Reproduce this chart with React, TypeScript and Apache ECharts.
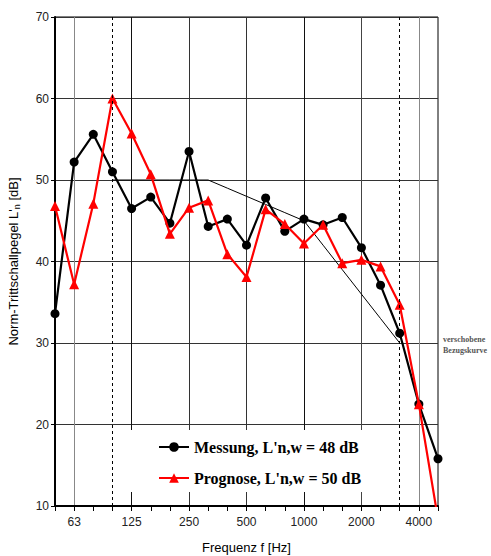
import React, { useEffect, useRef } from 'react';
import * as echarts from 'echarts';

const frequencies = ['50', '63', '80', '100', '125', '160', '200', '250', '315', '400', '500', '630', '800', '1000', '1250', '1600', '2000', '2500', '3150', '4000', '5000'];
const measured = [33.6, 52.2, 55.6, 51.0, 46.5, 47.9, 44.7, 53.5, 44.3, 45.2, 42.0, 47.8, 43.7, 45.2, 44.5, 45.4, 41.7, 37.1, 31.2, 22.5, 15.8];
const predicted = [46.8, 37.2, 47.1, 60.0, 55.7, 50.7, 43.4, 46.6, 47.5, 40.9, 38.1, 46.4, 44.6, 42.2, 44.5, 39.8, 40.2, 39.4, 34.7, 22.5, 8.4];
const shiftedReference = [null, null, null, 50, 50, 50, 50, 50, 50, 49, 48, 47, 46, 45, 42, 39, 36, 33, 30, null, null];
const xTickLabels = ['63', '125', '250', '500', '1000', '2000', '4000'];
const dashedFrequencies = ['100', '3150'];
const gridColors = ['#888', '#111', '#333', '#333', '#111', '#444', '#888'];
const measuredName = "Messung, L'n,w = 48 dB";
const predictedName = "Prognose, L'n,w = 50 dB";

export default function App() {
  const ref = useRef<HTMLDivElement>(null);
  useEffect(() => {
    if (!ref.current) return;
    const chart = echarts.init(ref.current, null, { renderer: 'svg' });
    chart.setOption({
      animation: false,
      backgroundColor: '#fff',
      grid: {
        left: 55, right: 53, top: 17, bottom: 50,
        outerBoundsMode: 'none',
        containLabel: false,
        show: true, borderColor: '#000', borderWidth: 1, backgroundColor: 'transparent',
      },
      legend: {
        data: [measuredName, predictedName],
        orient: 'vertical',
        left: 120,
        top: 430,
        padding: [9, 35, 6, 38],
        itemGap: 15,
        itemWidth: 30,
        itemHeight: 12,
        backgroundColor: '#fff',
        textStyle: { fontFamily: 'Liberation Serif', fontWeight: 'bold', fontSize: 16, color: '#000' },
      },
      xAxis: {
        type: 'category',
        data: frequencies,
        boundaryGap: false,
        name: 'Frequenz f [Hz]',
        nameLocation: 'middle',
        nameGap: 35,
        nameTextStyle: { fontFamily: 'Liberation Sans', fontSize: 13, color: '#000' },
        axisLine: { lineStyle: { color: '#000', width: 2 } },
        axisTick: { show: true, interval: 0, length: 5, lineStyle: { color: '#000' } },
        axisLabel: {
          interval: (_i: number, v: string) => xTickLabels.includes(v),
          fontFamily: 'Liberation Sans',
          fontSize: 12,
          color: '#222',
          margin: 10,
        },
        splitLine: {
          show: true,
          interval: (_i: number, v: string) => xTickLabels.includes(v),
          lineStyle: { color: gridColors, width: 1 },
        },
      },
      yAxis: {
        type: 'value',
        min: 10,
        max: 70,
        interval: 10,
        name: "Norm-Trittschallpegel L'{sub|n} [dB]",
        nameLocation: 'middle',
        nameGap: 34,
        nameTextStyle: {
          fontFamily: 'Liberation Sans',
          fontSize: 13,
          color: '#000',
          rich: { sub: { fontFamily: 'Liberation Sans', fontSize: 9, color: '#000', padding: [6, 0, 0, 0] } },
        },
        axisLine: { show: true, lineStyle: { color: '#000', width: 2 } },
        axisTick: { show: true, length: 4, lineStyle: { color: '#000' } },
        axisLabel: { fontFamily: 'Liberation Sans', fontSize: 12, color: '#222', margin: 6 },
        splitLine: { show: true, lineStyle: { color: '#333', width: 1 } },
      },
      series: [
        {
          name: 'verschobene Bezugskurve',
          type: 'line',
          data: shiftedReference,
          symbol: 'none',
          lineStyle: { color: '#000', width: 1 },
          silent: true,
          z: 1,
          markLine: {
            silent: true,
            symbol: 'none',
            label: { show: false },
            lineStyle: { color: '#000', width: 1, type: [3, 3] },
            data: dashedFrequencies.map((f) => ({ xAxis: f })),
          },
        },
        {
          name: measuredName,
          type: 'line',
          data: measured,
          symbol: 'circle',
          symbolSize: 9,
          color: '#000',
          lineStyle: { color: '#000', width: 2.2 },
          itemStyle: { color: '#000' },
          z: 3,
        },
        {
          name: predictedName,
          type: 'line',
          data: predicted,
          symbol: 'triangle',
          symbolSize: 10,
          color: '#ff0000',
          lineStyle: { color: '#ff0000', width: 2.2 },
          itemStyle: { color: '#ff0000' },
          z: 4,
        },
      ],
      graphic: [
        {
          type: 'text',
          left: 443,
          top: 334,
          style: {
            text: 'verschobene\nBezugskurve',
            font: 'bold 8px "Liberation Serif"',
            fill: '#555',
            lineHeight: 11,
          },
        },
      ],
    });
    return () => chart.dispose();
  }, []);
  return <div ref={ref} style={{ width: 491, height: 556, position: 'absolute', left: 0, top: 0 }} />;
}
